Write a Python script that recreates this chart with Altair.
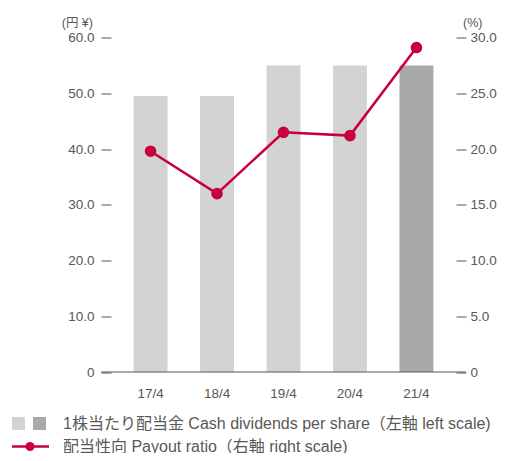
import altair as alt
import pandas as pd

years = ["17/4", "18/4", "19/4", "20/4", "21/4"]
dividends = [49.5, 49.5, 55.0, 55.0, 55.0]
payout = [19.8, 16.0, 21.5, 21.2, 29.1]
kinds = ["past", "past", "past", "past", "latest"]

left_ticks = [0, 10, 20, 30, 40, 50, 60]
right_ticks = [0, 5, 10, 15, 20, 25, 30]

legend_bar = "1株当たり配当金 Cash dividends per share（左軸 left scale)"
legend_line = "配当性向 Payout ratio（右軸 right scale)"

df = pd.DataFrame({"year": years, "div": dividends, "payout": payout, "kind": kinds})

W, H = 345, 334.5
FONT = "Liberation Sans, Noto Sans CJK JP, sans-serif"
TXT = "#595757"
RED = "#c8003c"

xenc = alt.X("year:N", sort=years, title=None,
             scale=alt.Scale(paddingInner=0.49, paddingOuter=0.34),
             axis=alt.Axis(domain=False, ticks=False, labelPadding=14, labelAngle=0,
                           labelFontSize=13.5, labelColor=TXT, labelFont=FONT))

bars = alt.Chart(df).mark_bar().encode(
    x=xenc,
    y=alt.Y("div:Q", title=None, scale=alt.Scale(domain=[0, 60], nice=False),
            axis=alt.Axis(orient="left", values=left_ticks, domain=False, grid=False,
                          tickSize=10, tickColor=TXT, tickWidth=1, labelPadding=7,
                          labelFontSize=13.5, labelColor=TXT, labelFont=FONT,
                          labelExpr="datum.value == 0 ? '0' : format(datum.value, '.1f')")),
    color=alt.Color("kind:N", scale=alt.Scale(domain=["past", "latest"], range=["#d3d3d3", "#a8a9a8"]),
                    legend=None),
)

yright = alt.Y("payout:Q", title=None, scale=alt.Scale(domain=[0, 30], nice=False),
               axis=alt.Axis(orient="right", values=right_ticks, domain=False, grid=False,
                             tickSize=10, tickColor=TXT, tickWidth=1, labelPadding=4,
                             labelFontSize=13.5, labelColor=TXT, labelFont=FONT,
                             labelExpr="datum.value == 0 ? '0' : format(datum.value, '.1f')"))

line = alt.Chart(df).mark_line(color=RED, strokeWidth=2.5).encode(x=alt.X("year:N", sort=years), y=yright)
pts = alt.Chart(df).mark_circle(color=RED, size=135, opacity=1).encode(x=alt.X("year:N", sort=years), y=yright)

one = pd.DataFrame({"a": [0]})
base = alt.Chart(one).mark_rule(color="#555555", strokeWidth=1).encode(
    x=alt.value(-10), x2=alt.value(W + 10), y=alt.value(H))

def txt(s, x, y, align="left", size=13.5):
    return alt.Chart(one).mark_text(text=s, align=align, baseline="middle", font=FONT,
                                    fontSize=size, color=TXT).encode(x=alt.value(x), y=alt.value(y))

unit_l = txt("(円 ¥)", -18, -15, align="right", size=12.5)
unit_r = txt("(%)", 352, -15, size=12.5)

R1, R2 = 386, 409
sq1 = alt.Chart(one).mark_rect(color="#d3d3d3").encode(
    x=alt.value(-99), x2=alt.value(-86), y=alt.value(R1 - 6.5), y2=alt.value(R1 + 6.5))
sq2 = alt.Chart(one).mark_rect(color="#a8a9a8").encode(
    x=alt.value(-78), x2=alt.value(-65), y=alt.value(R1 - 6.5), y2=alt.value(R1 + 6.5))
lg_line = alt.Chart(one).mark_rule(color=RED, strokeWidth=2.5).encode(
    x=alt.value(-99), x2=alt.value(-62), y=alt.value(R2))
lg_pt = alt.Chart(one).mark_circle(color=RED, size=80, opacity=1).encode(
    x=alt.value(-81), y=alt.value(R2))
t1 = txt(legend_bar, -48, R1, size=16)
t2 = txt(legend_line, -48, R2, size=16)

chart = alt.layer(
    bars, alt.layer(line, pts), base, unit_l, unit_r, sq1, sq2, lg_line, lg_pt, t1, t2
).resolve_scale(y="independent").properties(
    width=W, height=H,
    autosize=alt.AutoSizeParams(type="none"),
    padding={"left": 103, "top": 29.5, "right": 66, "bottom": 81},
).configure_view(stroke=None)

chart.save("out.html", embed_options={"renderer": "svg", "actions": False})
